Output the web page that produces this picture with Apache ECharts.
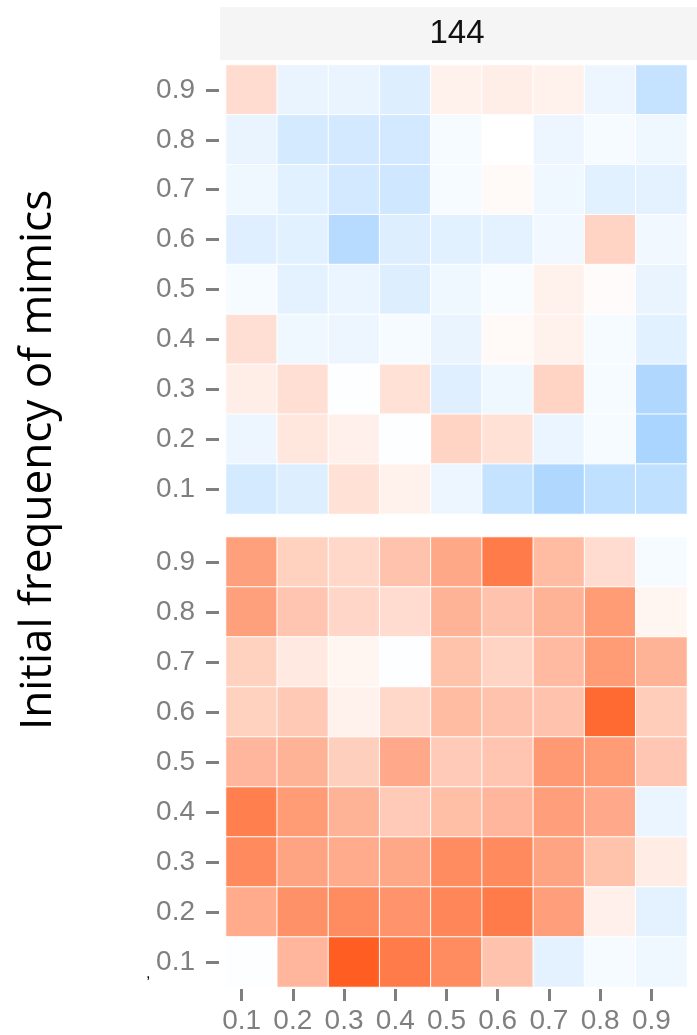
<!DOCTYPE html>
<html>
<head>
<meta charset="utf-8">
<script src="https://cdn.jsdelivr.net/npm/echarts@6/dist/echarts.min.js"></script>
<style>
html,body{margin:0;padding:0;background:#fff;}
#chart{width:697px;height:1035px;}
</style>
</head>
<body>
<div id="chart"></div>
<script>
// ---- data ----
const xCategories = ['0.1','0.2','0.3','0.4','0.5','0.6','0.7','0.8','0.9'];
const yCategories = ['0.1','0.2','0.3','0.4','0.5','0.6','0.7','0.8','0.9'];
const facetLabel = '144';
const yTitle = 'Initial frequency of mimics';

// rows listed from top (0.9) to bottom (0.1), columns 0.1 .. 0.9
const topPanelRows = [
  [ 0.19,-0.10,-0.10,-0.15, 0.07, 0.09, 0.07,-0.08,-0.26],
  [-0.10,-0.19,-0.20,-0.20,-0.04, 0.00,-0.08,-0.04,-0.07],
  [-0.07,-0.13,-0.20,-0.21,-0.04, 0.03,-0.07,-0.13,-0.12],
  [-0.14,-0.13,-0.32,-0.15,-0.13,-0.12,-0.06, 0.23,-0.06],
  [-0.04,-0.12,-0.09,-0.15,-0.07,-0.03, 0.07, 0.02,-0.10],
  [ 0.17,-0.07,-0.08,-0.04,-0.10, 0.03, 0.07,-0.04,-0.13],
  [ 0.09, 0.17,-0.01, 0.16,-0.14,-0.07, 0.23,-0.04,-0.35],
  [-0.08, 0.13, 0.08,-0.01, 0.23, 0.16,-0.09,-0.04,-0.38],
  [-0.19,-0.15, 0.16, 0.07,-0.08,-0.26,-0.35,-0.28,-0.28]
];
const bottomPanelRows = [
  [ 0.51, 0.25, 0.21, 0.32, 0.47, 0.71, 0.36, 0.19,-0.04],
  [ 0.51, 0.31, 0.22, 0.19, 0.41, 0.32, 0.41, 0.54, 0.05],
  [ 0.25, 0.12, 0.05,-0.01, 0.33, 0.23, 0.37, 0.54, 0.41],
  [ 0.25, 0.29, 0.07, 0.21, 0.36, 0.32, 0.32, 0.80, 0.27],
  [ 0.39, 0.41, 0.26, 0.46, 0.28, 0.31, 0.55, 0.54, 0.30],
  [ 0.69, 0.54, 0.41, 0.28, 0.35, 0.39, 0.52, 0.46,-0.09],
  [ 0.63, 0.49, 0.45, 0.47, 0.62, 0.63, 0.49, 0.33, 0.10],
  [ 0.45, 0.59, 0.62, 0.58, 0.65, 0.71, 0.52, 0.08,-0.12],
  [-0.01, 0.39, 0.87, 0.71, 0.62, 0.32,-0.12,-0.04,-0.07]
];

function toCells(rows){
  const out = [];
  const n = rows.length;
  rows.forEach((row, r) => {
    row.forEach((v, c) => { out.push([c, n - 1 - r, v]); });
  });
  return out;
}

const tickColor = '#7f7f7f';
const labelFont = 'Liberation Sans, Arial, Helvetica, sans-serif';

const chart = echarts.init(document.getElementById('chart'), null, {renderer:'canvas'});

const yAxisCommon = {
  type:'category', data:yCategories, offset:7,
  axisLine:{show:false},
  axisTick:{show:true, length:13, alignWithLabel:true, lineStyle:{color:tickColor, width:3}},
  axisLabel:{color:tickColor, fontSize:28, fontFamily:labelFont, margin:24},
  splitLine:{show:false}
};
const hiddenX = {type:'category', data:xCategories, show:false};

const option = {
  backgroundColor:'#ffffff',
  animation:false,
  grid:[
    {left:226, top:65, width:461, height:449},
    {left:226, top:537, width:461, height:450},
    {left:216, top:537, width:461, height:450}
  ],
  xAxis:[
    Object.assign({gridIndex:0}, hiddenX),
    Object.assign({gridIndex:1}, hiddenX),
    {
      gridIndex:2, type:'category', data:xCategories, offset:4,
      axisLine:{show:false},
      axisTick:{show:true, length:12, alignWithLabel:true, lineStyle:{color:tickColor, width:3}},
      axisLabel:{color:tickColor, fontSize:28, fontFamily:'Liberation Sans Narrow, ' + labelFont, margin:18},
      splitLine:{show:false}
    }
  ],
  yAxis:[
    Object.assign({gridIndex:0}, yAxisCommon),
    Object.assign({gridIndex:1}, yAxisCommon),
    {gridIndex:2, type:'category', data:yCategories, show:false}
  ],
  visualMap:{
    type:'continuous', show:false, min:-1, max:1, seriesIndex:[0,1],
    inRange:{color:['#1E90FF','#ffffff','#FF4500']}
  },
  series:[
    {type:'heatmap', xAxisIndex:0, yAxisIndex:0, data:toCells(topPanelRows),
     itemStyle:{borderColor:'#ffffff', borderWidth:1}},
    {type:'heatmap', xAxisIndex:1, yAxisIndex:1, data:toCells(bottomPanelRows),
     itemStyle:{borderColor:'#ffffff', borderWidth:1}}
  ],
  graphic:[
    {type:'rect', shape:{x:220, y:7, width:477, height:53}, style:{fill:'#f5f5f5'}, z:0},
    {type:'text', x:457, y:34, style:{text:facetLabel, fill:'#111', fontSize:33, fontFamily:labelFont, align:'center', verticalAlign:'middle'}},
    {type:'text', x:38, y:460, rotation:Math.PI/2, style:{text:yTitle, fill:'#000', fontSize:44, fontFamily:'Open Sans, sans-serif', align:'center', verticalAlign:'middle'}},
    {type:'text', x:146, y:966, style:{text:',', fill:'#000', fontSize:16, fontFamily:labelFont}}
  ]
};
chart.setOption(option);
</script>
</body>
</html>
